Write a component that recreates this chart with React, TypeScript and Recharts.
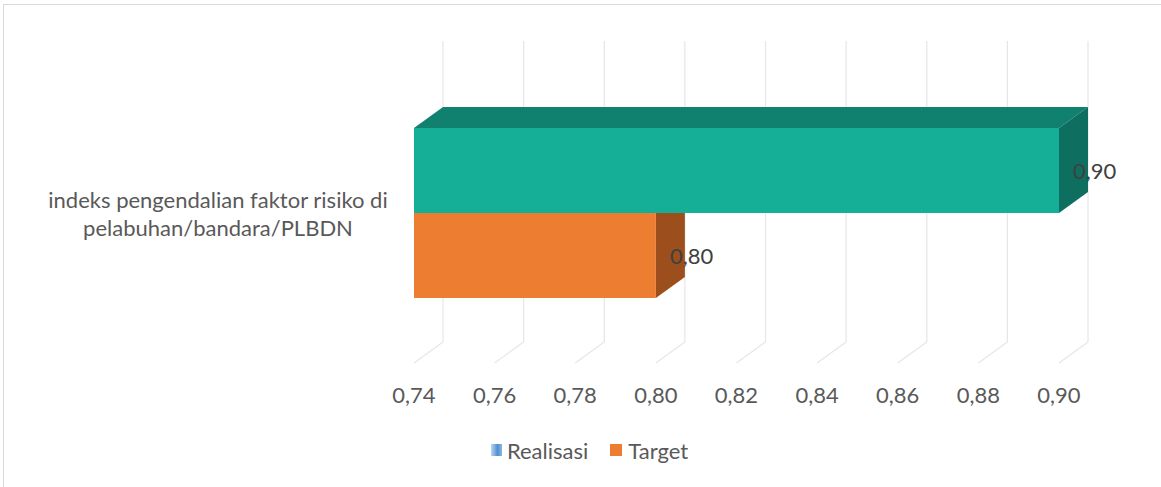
import React from "react";
import {
  BarChart,
  Bar,
  XAxis,
  YAxis,
  CartesianGrid,
  Legend,
  LabelList,
} from "recharts";

const categories = [
  "indeks pengendalian faktor risiko di pelabuhan/bandara/PLBDN",
];
const realisasi = [0.9];
const target = [0.8];
const xTicks = [0.74, 0.76, 0.78, 0.8, 0.82, 0.84, 0.86, 0.88, 0.9];

const data = categories.map((name, i) => ({
  name,
  Realisasi: realisasi[i],
  Target: target[i],
}));

const DX = 29; // 3d depth
const DY = 21;
const FONT = "Lato, 'Open Sans', sans-serif";

const fmt = (v: number) => v.toFixed(2).replace(".", ",");

function wrap(text: string, max: number) {
  const words = text.split(" ");
  const lines: string[] = [];
  let cur = "";
  words.forEach((w) => {
    const next = cur ? cur + " " + w : w;
    if (next.length > max && cur) {
      lines.push(cur);
      cur = w;
    } else cur = next;
  });
  if (cur) lines.push(cur);
  return lines;
}

const make3DBar =
  (front: string, top: string, side: string, hideBack: boolean) =>
  (props: any) => {
    const { x, y, width, height } = props;
    const r = x + width;
    const b = y + height;
    const sidePts = hideBack
      ? `${r},${y} ${r + DX},${y} ${r + DX},${b - DY} ${r},${b}`
      : `${r},${y} ${r + DX},${y - DY} ${r + DX},${b - DY} ${r},${b}`;
    return (
      <g>
        {!hideBack && (
          <polygon
            points={`${x},${y} ${x + DX},${y - DY} ${r + DX},${y - DY} ${r},${y}`}
            fill={top}
          />
        )}
        <polygon points={sidePts} fill={side} />
        <rect x={x} y={y} width={width} height={height} fill={front} />
      </g>
    );
  };

const ValueLabel = (props: any) => {
  const { x, y, width, height, value } = props;
  return (
    <text
      x={x + width + 14}
      y={y + height / 2}
      dy={8}
      fontSize={22}
      fontFamily={FONT}
      fill="#404040"
    >
      {fmt(value)}
    </text>
  );
};

const XTick = (props: any) => {
  const { x, y, payload } = props;
  return (
    <text
      x={x}
      y={y}
      dy={40}
      textAnchor="middle"
      fontSize={22}
      fontFamily={FONT}
      fill="#595959"
    >
      {fmt(payload.value)}
    </text>
  );
};

const YTick = (props: any) => {
  const { x, y, payload } = props;
  const lines = wrap(payload.value, 36);
  const lh = 28;
  const start = y - ((lines.length - 1) * lh) / 2;
  return (
    <g>
      {lines.map((l, i) => (
        <text
          key={i}
          x={x - 196}
          y={start + i * lh}
          dy={9}
          textAnchor="middle"
          fontSize={22}
          fontFamily={FONT}
          fill="#595959"
        >
          {l}
        </text>
      ))}
    </g>
  );
};

const gridLine = (props: any) => {
  const { x1, y1, y2, key } = props;
  return (
    <path
      key={key}
      d={`M${x1 + DX},${y1 - DY} L${x1 + DX},${y2 - DY} L${x1},${y2}`}
      stroke="#e6e6e6"
      strokeWidth={1.2}
      fill="none"
    />
  );
};

const LegendBox = () => (
  <div
    style={{
      display: "flex",
      justifyContent: "center",
      alignItems: "center",
      paddingLeft: 18,
      fontFamily: FONT,
      fontSize: 22,
      color: "#595959",
      height: 40,
    }}
  >
    <span
      style={{
        width: 11,
        height: 12,
        marginRight: 5,
        background: "linear-gradient(90deg, #bcd6ef, #4f8fd0 60%, #8cb8e4)",
      }}
    />
    <span style={{ marginRight: 22 }}>Realisasi</span>
    <span
      style={{ width: 12, height: 12, marginRight: 6, background: "#ED7D31" }}
    />
    <span>Target</span>
  </div>
);

export default function App() {
  return (
    <div
      style={{
        position: "absolute",
        left: 0,
        top: 0,
        width: 1161,
        height: 487,
        background: "#fff",
        overflow: "hidden",
      }}
    >
      <div
        style={{
          position: "absolute",
          left: 3,
          top: 4,
          right: 0,
          bottom: 0,
          borderLeft: "1px solid #d9d9d9",
          borderTop: "1px solid #d9d9d9",
        }}
      />
      <div style={{ position: "absolute", left: 0, top: 0 }}>
        <BarChart
          width={1161}
          height={487}
          data={data}
          layout="vertical"
          margin={{ top: 62, right: 102, bottom: 17, left: 0 }}
          barGap={0}
          barSize={85}
        >
          <CartesianGrid horizontal={false} vertical={gridLine} />
          <XAxis
            type="number"
            domain={[0.74, 0.9]}
            ticks={xTicks}
            axisLine={false}
            tickLine={false}
            tickSize={0}
            tickMargin={0}
            height={67}
            tick={<XTick />}
          />
          <YAxis
            type="category"
            dataKey="name"
            width={414}
            axisLine={false}
            tickLine={false}
            tickSize={0}
            tickMargin={0}
            tick={<YTick />}
          />
          <Legend
            verticalAlign="bottom"
            height={40}
            content={<LegendBox />}
            wrapperStyle={{ left: 0, width: 1161 }}
          />
          <Bar
            dataKey="Realisasi"
            fill="#5B9BD5"
            isAnimationActive={false}
            shape={make3DBar("#15AE97", "#10806F", "#0E6E5F", false)}
          >
            <LabelList dataKey="Realisasi" content={<ValueLabel />} />
          </Bar>
          <Bar
            dataKey="Target"
            fill="#ED7D31"
            isAnimationActive={false}
            shape={make3DBar("#ED7D31", "#B65F23", "#9C4F1C", true)}
          >
            <LabelList dataKey="Target" content={<ValueLabel />} />
          </Bar>
        </BarChart>
      </div>
    </div>
  );
}
